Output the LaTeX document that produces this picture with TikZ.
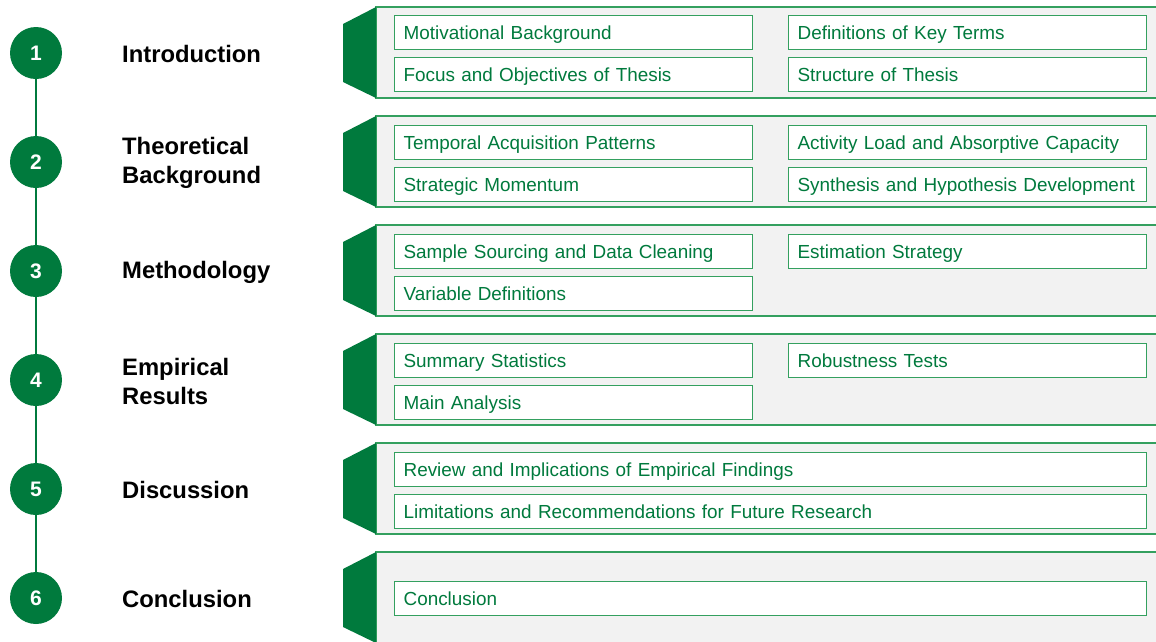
\documentclass[tikz,border=0pt]{standalone}
\usepackage{fontspec}
\setmainfont{Liberation Sans}
\definecolor{dgreen}{RGB}{0,122,61}
\definecolor{lgreen}{RGB}{52,160,95}
\definecolor{tgreen}{RGB}{0,122,61}
\definecolor{pgray}{RGB}{242,242,242}
\tikzset{
 num/.style={circle, fill=dgreen, minimum size=52pt, inner sep=0pt, text=white, font=\bfseries\fontsize{21}{21}\selectfont},
 chap/.style={anchor=west, font=\bfseries\fontsize{23.8}{29}\selectfont, align=left, inner sep=0pt},
 item/.style={draw=lgreen, line width=1.2pt, fill=white, text=tgreen, font=\fontsize{18.9}{19}\selectfont, text width=340pt, inner xsep=9pt, inner ysep=0pt, text height=16pt, text depth=2pt, minimum height=34pt, align=left, anchor=north west},
 wideitem/.style={item, text width=734pt},
 panel/.style={fill=pgray, draw=lgreen, line width=1.3pt},
 tab/.style={fill=dgreen},
 link/.style={draw=dgreen, line width=2pt}
}
\begin{document}
\begin{tikzpicture}[x=1pt,y=-1pt]
\clip (0,0) rectangle (1156,641);
\fill[white] (0,0) rectangle (1156,641);
% panels
\foreach \t in {7,116,225,334,443,552}{
  \draw[panel] (376,\t) rectangle (1175,\t+91);
  \fill[tab] (343,\t+17) -- (376,\t) -- (376,\t+91) -- (343,\t+75) -- cycle;
}
% timeline
\node[num] (c1) at (36,53) {1};
\node[num] (c2) at (36,162) {2};
\node[num] (c3) at (36,271) {3};
\node[num] (c4) at (36,380) {4};
\node[num] (c5) at (36,489) {5};
\node[num] (c6) at (36,598) {6};
\draw[link] (c1) -- (c2);
\draw[link] (c2) -- (c3);
\draw[link] (c3) -- (c4);
\draw[link] (c4) -- (c5);
\draw[link] (c5) -- (c6);
\node[chap] (l1) at (122,54) {Introduction};
\node[chap] (l2) at (122,163) {Theoretical\\Background};
\node[chap] (l3) at (122,272) {Methodology};
\node[chap] (l4) at (122,381) {Empirical\\Results};
\node[chap] (l5) at (122,490) {Discussion};
\node[chap] (l6) at (122,599) {Conclusion};
% panel 1
\node[item] (b11) at (394,15) {Motivational Background};
\node[item] (b12) at (788,15) {Definitions of Key Terms};
\node[item] (b13) at (394,57) {Focus and Objectives of Thesis};
\node[item] (b14) at (788,57) {Structure of Thesis};
% panel 2
\node[item] (b21) at (394,125) {Temporal Acquisition Patterns};
\node[item] (b22) at (788,125) {Activity Load and Absorptive Capacity};
\node[item] (b23) at (394,167) {Strategic Momentum};
\node[item] (b24) at (788,167) {Synthesis and Hypothesis Development};
% panel 3
\node[item] (b31) at (394,234) {Sample Sourcing and Data Cleaning};
\node[item] (b32) at (788,234) {Estimation Strategy};
\node[item] (b33) at (394,276) {Variable Definitions};
% panel 4
\node[item] (b41) at (394,343) {Summary Statistics};
\node[item] (b42) at (788,343) {Robustness Tests};
\node[item] (b43) at (394,385) {Main Analysis};
% panel 5
\node[wideitem] (b51) at (394,452) {Review and Implications of Empirical Findings};
\node[wideitem] (b52) at (394,494) {Limitations and Recommendations for Future Research};
% panel 6
\node[wideitem] (b61) at (394,581) {Conclusion};
\end{tikzpicture}
\end{document}
